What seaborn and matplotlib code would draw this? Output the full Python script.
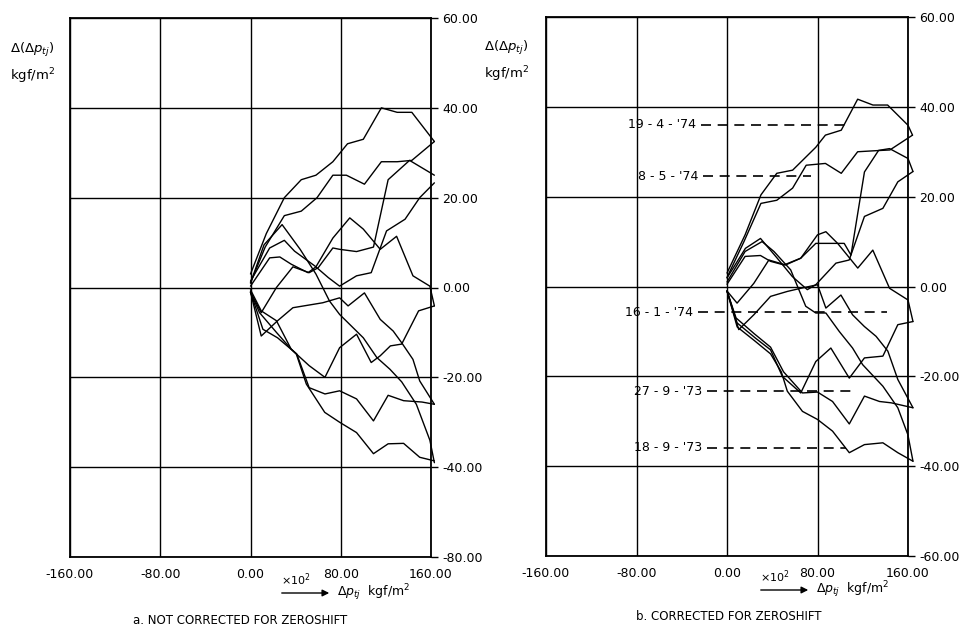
import pandas as pd
import matplotlib.pyplot as plt
import seaborn as sns

# x in 10^2 kgf/m2, y in kgf/m2 ; each loop = outgoing and returning branch
# a. not corrected for zeroshift
a1_up = [(0, 3), (14, 12), (30, 20), (45, 24), (58, 25), (73, 28), (86, 32), (100, 33), (116, 40), (130, 39), (143, 39), (163, 32.5)]
a1_down = [(0, 1), (13, 9), (30, 16), (45, 17), (59, 20), (73, 25), (85, 25), (101, 23), (116, 28), (130, 28), (143, 28.3), (163, 32.5)]
a2_up = [(0, -1), (9.5, -5.6), (23, 0), (37.6, 4.6), (52, 3.3), (60, 4.4), (73, 8.8), (79, 8.5), (94, 8), (109, 9), (122, 24), (141, 28.3), (163, 25)]
a2_down = [(0, 1.4), (17, 8.8), (30, 10.5), (39, 8.1), (57, 4.8), (69, 2.2), (79, 0.3), (94, 2.6), (107, 3.3), (120.6, 12.6), (137, 15.2), (150, 20), (163, 23.3)]
a3_up = [(0, 0.3), (17, 6.6), (26, 6.8), (36, 5.2), (51, 3.3), (58, 4.6), (73, 11), (88, 15.5), (100, 13), (115, 8.5), (129.5, 11.4), (144, 2.6), (159, 0.3), (163, -4.1)]
a3_down = [(0, -1), (11, -9.3), (24, -11.2), (37.6, -14.1), (52, -17.4), (66, -20), (79, -13.4), (94, -10.4), (107, -16.7), (115, -15.2), (124, -13), (134, -12.6), (149, -5.2), (163, -4.1)]
a4_up = [(0, -1), (9.5, -10.8), (24, -7.4), (37.6, -4.5), (52, -3.9), (64, -3.4), (79, -2.3), (86.5, -4.1), (101, -1.2), (115, -7.1), (126.5, -9.7), (134, -12.3), (144, -16), (150, -20.8), (163, -26)]
a4_down = [(0, -0.5), (9.5, -5.2), (23, -7.4), (36, -13.7), (41, -14.8), (52, -22.3), (66, -23.7), (79, -23), (94, -24.8), (109, -29.7), (122, -24), (135.7, -25.2), (152, -25.5), (163, -26)]
a5_up = [(0, 1), (12, 9.5), (28, 14), (44, 8.5), (58, 3), (70, -3), (79, -6), (89.5, -8.6), (100, -11.2), (112, -15.6), (123.6, -18.2), (134, -21), (147, -26), (159, -34), (163, -39)]
a5_down = [(0, -1), (8, -5.6), (23, -10), (36, -13.7), (40.6, -14.8), (49.5, -21.5), (65.8, -27.8), (79, -30), (94, -32.3), (109, -37), (122, -34.8), (135.7, -34.7), (150, -37.8), (163, -38.6)]

# b. corrected for zeroshift
b1_up = [(0, 3), (16, 11.5), (30, 20.4), (44, 25.2), (58, 25.9), (78.5, 31), (87, 33.7), (101, 34.8), (115.5, 41.7), (129, 40.4), (142, 40.4), (160, 35.9), (164, 33.7)]
b1_down = [(0, 2), (15, 10), (30, 18.5), (44, 19.2), (58, 21.9), (70, 27), (87, 27.4), (101, 25.2), (115.5, 30), (129, 30.2), (144, 30.4), (164, 33.7)]
b2_up = [(0, -1), (8.9, -3.7), (23.7, 0.7), (37, 5.9), (51.8, 4.8), (65.2, 6.3), (78.5, 9.6), (91.8, 9.6), (103.6, 9.6), (109.6, 7), (121.5, 25.5), (134, 30.3), (143.7, 30.7), (160, 28.5), (164.4, 25.6)]
b2_down = [(0, 1.9), (16.3, 8.5), (29.6, 10.7), (44.4, 6.3), (57.8, 2.2), (71, -0.7), (78.5, 0.4), (96.3, 5.2), (108, 5.9), (121.5, 15.6), (137.8, 17.4), (151, 23.3), (164.4, 25.6)]
b3_up = [(0, 0.5), (16, 6.7), (29.6, 6.9), (38.5, 5.6), (50.4, 4.8), (65.2, 6.3), (80, 11.5), (87.4, 12.2), (97.8, 9.6), (115.6, 4.1), (128.9, 8.1), (143.7, -0.4), (160, -3), (164.4, -7.8)]
b3_down = [(0, -1), (8.9, -8.1), (25.2, -11.5), (38.5, -14.1), (48.9, -20), (65.2, -23.7), (78.5, -16.7), (91.8, -13.7), (108.1, -20.4), (121.5, -15.9), (137.8, -15.5), (151, -8.5), (164.4, -7.8)]
b4_up = [(0, -1), (10.4, -9.6), (23.7, -6.3), (38.5, -2.2), (53.3, -1.1), (65.2, -0.4), (80, 0.4), (87.4, -4.8), (100.7, -1.9), (111, -6.3), (121.4, -8.9), (131.8, -11.1), (142.2, -14.4), (151, -20.7), (164.4, -27)]
b4_down = [(0, -1), (8, -7), (24, -10.5), (38.5, -13.5), (50, -19), (66.7, -23.7), (80, -23.5), (93.3, -25.6), (108.1, -30.6), (121.5, -24.4), (134.8, -25.6), (145.2, -25.9), (164.4, -27)]
b5_up = [(0, 1), (16, 7.8), (31, 10), (41.5, 7.8), (56.3, 3.7), (69.6, -4.4), (78.5, -5.9), (87.4, -5.9), (99.2, -10), (111, -13.7), (119.9, -17.4), (137.8, -22.2), (151, -27), (159.9, -33), (164.4, -38.9)]
b5_down = [(0, -1), (9, -9), (24, -12), (38.5, -15), (48, -19), (53.3, -23.3), (66.7, -27.8), (80, -29.6), (93.3, -32.2), (108.1, -37), (121.5, -35.2), (137.8, -34.8), (151, -37), (164.4, -38.9)]

# dates of the loops in panel b, with the level and ends of their dashed leader
b_dates = ["19 - 4 - '74", "8 - 5 - '74", "16 - 1 - '74", "27 - 9 - '73", "18 - 9 - '73"]
b_date_y = [36, 24.6, -5.7, -23.3, -35.9]
b_date_xstart = [-23, -21, -26, -18, -18]
b_date_xend = [105, 74, 141, 114, 105]

x_ticks = [-160, -80, 0, 80, 160]
x_tick_labels = ['-160.00', '-80.00', '0.00', '80.00', '160.00']
y_ticks = [60, 40, 20, 0, -20, -40, -60]
a_ytick_labels = ['60.00', '40.00', '20.00', '0.00', '-20.00', '-40.00', '-80.00']
b_ytick_labels = ['60.00', '40.00', '20.00', '0.00', '-20.00', '-40.00', '-60.00']


def to_frame(branches):
    rows = []
    for name, pts in branches.items():
        for x, y in pts:
            rows.append((name, x, y))
    return pd.DataFrame(rows, columns=['branch', 'x', 'y'])


df_a = to_frame({'a1u': a1_up, 'a1d': a1_down, 'a2u': a2_up, 'a2d': a2_down, 'a3u': a3_up,
                 'a3d': a3_down, 'a4u': a4_up, 'a4d': a4_down, 'a5u': a5_up, 'a5d': a5_down})
df_b = to_frame({'b1u': b1_up, 'b1d': b1_down, 'b2u': b2_up, 'b2d': b2_down, 'b3u': b3_up,
                 'b3d': b3_down, 'b4u': b4_up, 'b4d': b4_down, 'b5u': b5_up, 'b5d': b5_down})

sns.set_style('white')
plt.rcParams['font.family'] = ['DejaVu Sans']
plt.rcParams['mathtext.fontset'] = 'dejavusans'
plt.rcParams['text.color'] = 'black'
plt.rcParams['xtick.color'] = 'black'
plt.rcParams['ytick.color'] = 'black'

W, H = 960, 629
fig = plt.figure(figsize=(9.6, 6.29), dpi=100)
ax_a = fig.add_axes([70 / W, 1 - 557 / H, 361 / W, 539 / H])
ax_b = fig.add_axes([546 / W, 1 - 556 / H, 362 / W, 539 / H])


def draw_panel(ax, df, ylabels):
    sns.lineplot(data=df, x='x', y='y', units='branch', estimator=None, sort=False,
                 color='black', linewidth=1.0, ax=ax, legend=False)
    for ln in ax.lines:
        ln.set_clip_on(False)
    ax.set_xlim(-160, 160)
    ax.set_ylim(-60, 60)
    ax.set_xticks(x_ticks)
    ax.set_xticklabels(x_tick_labels)
    ax.set_yticks(y_ticks)
    ax.set_yticklabels(ylabels)
    ax.yaxis.tick_right()
    ax.grid(True, color='black', linewidth=1.0)
    ax.set_axisbelow(True)
    ax.set_xlabel('')
    ax.set_ylabel('')
    ax.tick_params(direction='out', length=5, width=1.0, labelsize=9, colors='black',
                   labelcolor='black', pad=3)
    for s in ax.spines.values():
        s.set_color('black')
        s.set_linewidth(1.3)


draw_panel(ax_a, df_a, a_ytick_labels)
draw_panel(ax_b, df_b, b_ytick_labels)

# date leaders on panel b
for lab, y, xs, xe in zip(b_dates, b_date_y, b_date_xstart, b_date_xend):
    ax_b.plot([xs, xe], [y, y], color='black', linewidth=1.2, linestyle=(0, (6, 4)))
    ax_b.text(xs - 4, y, lab, ha='right', va='center', fontsize=9, color='black')

# axis annotations
for left, top in [(10, 50), (484, 48)]:
    fig.text(left / W, 1 - top / H, r'$\Delta(\Delta p_{tj})$', ha='left', va='center', fontsize=9.5)
    fig.text(left / W, 1 - (top + 26) / H, r'kgf/m$^2$', ha='left', va='center', fontsize=9.5)

for x0, y0 in [(279, 593), (758, 590)]:
    fig.text((x0 + 2) / W, 1 - (y0 - 13) / H, r'$\times10^2$', ha='left', va='center', fontsize=8)
    ax_a.annotate('', xy=(x0 + 53, H - y0), xytext=(x0, H - y0), xycoords='figure pixels',
                  textcoords='figure pixels',
                  arrowprops=dict(arrowstyle='-|>', color='black', lw=1.0, mutation_scale=10))
    fig.text((x0 + 58) / W, 1 - y0 / H, r'$\Delta p_{tj}$  kgf/m$^2$', ha='left', va='center', fontsize=9)

fig.text(240 / W, 1 - 620 / H, 'a. NOT CORRECTED FOR ZEROSHIFT', ha='center', va='center', fontsize=8.5)
fig.text(729 / W, 1 - 617 / H, 'b. CORRECTED FOR ZEROSHIFT', ha='center', va='center', fontsize=8.5)

plt.savefig('out.png', dpi=100)
